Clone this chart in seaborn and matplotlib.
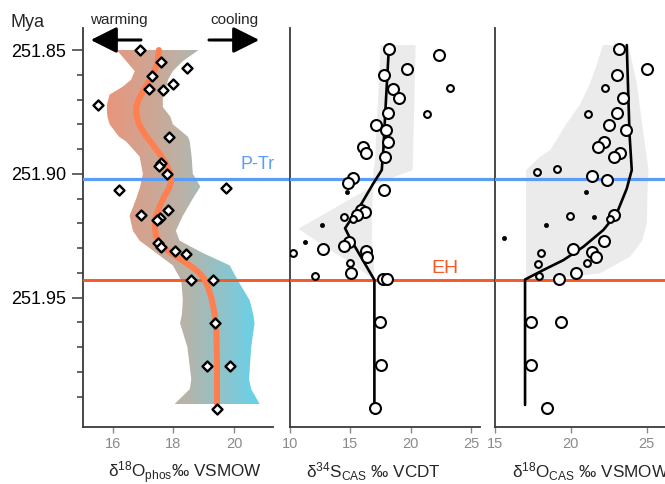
import numpy as np
import pandas as pd
import matplotlib
matplotlib.use("Agg")
import matplotlib.pyplot as plt
import seaborn as sns
from matplotlib.colors import LinearSegmentedColormap

# ---------------------------------------------------------------- data
# conodont apatite oxygen isotopes (diamonds)
phos_age = [251.8500, 251.8548, 251.8571, 251.8606, 251.8637, 251.8658, 251.8662,
            251.8722, 251.8850, 251.8955, 251.8970, 251.9000, 251.9067, 251.9056,
            251.9146, 251.9168, 251.9180, 251.9187, 251.9279, 251.9295, 251.9310,
            251.9324, 251.9431, 251.9431, 251.9604, 251.9775, 251.9775, 251.9950]
phos_d18o = [16.88, 17.58, 18.46, 17.28, 17.97, 17.18, 17.64,
             15.49, 17.84, 17.58, 17.52, 17.78, 16.19, 19.74,
             17.83, 16.93, 17.54, 17.47, 17.49, 17.59, 18.06,
             18.41, 18.58, 19.31, 19.37, 19.12, 19.87, 19.43]

# smoothed phosphate trend
phos_fit_age = [251.8500, 251.8548, 251.8575, 251.8620, 251.8665, 251.8700, 251.8730,
                251.8765, 251.8800, 251.8840, 251.8880, 251.8920, 251.8960, 251.9000,
                251.9030, 251.9060, 251.9090, 251.9130, 251.9170, 251.9210, 251.9250,
                251.9280, 251.9310, 251.9335, 251.9360, 251.9390, 251.9420, 251.9456,
                251.9500, 251.9564, 251.9650, 251.9766, 251.9928]
phos_fit = [17.52, 17.47, 17.40, 17.22, 17.00, 16.85, 16.77,
            16.78, 16.86, 17.05, 17.30, 17.55, 17.76, 17.90,
            17.93, 17.85, 17.70, 17.55, 17.42, 17.38, 17.42,
            17.54, 17.80, 18.10, 18.42, 18.76, 19.00, 19.14,
            19.25, 19.36, 19.42, 19.44, 19.44]

# confidence envelope of the phosphate trend
phos_band_age = [251.8500, 251.8545, 251.8585, 251.8620, 251.8650, 251.8680, 251.8730,
                 251.8770, 251.8800, 251.8850, 251.8870, 251.8930, 251.9000, 251.9052,
                 251.9100, 251.9170, 251.9230, 251.9270, 251.9320, 251.9370, 251.9431,
                 251.9511, 251.9568, 251.9604, 251.9700, 251.9830, 251.9870, 251.9930]
phos_band_lo = [16.13, 16.44, 16.72, 16.60, 16.30, 15.89, 15.78,
                15.82, 15.89, 16.20, 16.44, 16.88, 16.99, 16.90,
                16.77, 16.55, 16.66, 16.88, 17.43, 17.98, 18.26,
                18.31, 18.28, 18.22, 18.46, 18.59, 18.54, 18.04]
phos_band_hi = [18.83, 18.31, 17.98, 17.82, 17.76, 17.65, 17.65,
                17.90, 17.98, 18.48, 18.54, 18.60, 18.64, 18.89,
                18.64, 18.31, 18.08, 18.20, 18.97, 19.86, 20.13,
                20.52, 20.64, 20.68, 20.57, 20.50, 20.57, 20.85]

# carbonate-associated sulfate: sulfur isotopes
s_age = [251.8497, 251.8520, 251.8578, 251.8602, 251.8655, 251.8658, 251.8695,
         251.8756, 251.8760, 251.8803, 251.8824, 251.8870, 251.8890, 251.8915,
         251.8931, 251.9018, 251.9037, 251.9072, 251.9066, 251.9146, 251.9155,
         251.9167, 251.9173, 251.9183, 251.9207, 251.9275, 251.9292, 251.9276,
         251.9322, 251.9305, 251.9312, 251.9338, 251.9359, 251.9400, 251.9412,
         251.9427, 251.9427, 251.9600, 251.9773, 251.9948]
s_d34s = [18.18, 22.37, 19.66, 17.76, 23.26, 18.56, 19.06,
          18.09, 21.33, 17.15, 17.93, 18.09, 16.02, 16.30,
          17.85, 15.25, 14.83, 14.75, 17.79, 15.88, 16.21,
          15.53, 14.50, 15.25, 12.68, 14.92, 14.50, 11.24,
          10.28, 12.76, 16.27, 16.35, 15.00, 15.05, 12.07,
          17.73, 18.01, 17.46, 17.57, 17.07]
s_class = ["L", "L", "L", "L", "S", "L", "L",
           "L", "S", "L", "L", "L", "L", "L",
           "L", "L", "L", "T", "L", "L", "L",
           "L", "S", "S", "T", "L", "L", "T",
           "S", "L", "L", "L", "S", "L", "S",
           "L", "L", "L", "L", "L"]

s_fit_age = [251.8500, 251.8700, 251.8904, 251.8985, 251.9039, 251.9119,
             251.9220, 251.9260, 251.9429, 251.9928]
s_fit = [18.18, 17.95, 17.73, 17.60, 16.90, 15.94,
         14.56, 14.97, 16.99, 16.99]

s_band_x = [17.51, 20.41, 20.16, 16.90, 16.80, 16.77, 16.90, 16.99,
            15.11, 12.90, 10.69, 16.86, 16.92, 17.04, 17.51]
s_band_y = [251.8480, 251.8480, 251.8985, 251.9045, 251.9150, 251.9268, 251.9330, 251.9429,
            251.9362, 251.9295, 251.9222, 251.9050, 251.8985, 251.8944, 251.8480]

# carbonate-associated sulfate: oxygen isotopes
o_age = [251.8497, 251.8578, 251.8602, 251.8655, 251.8695, 251.8756, 251.8760,
         251.8803, 251.8824, 251.8870, 251.8890, 251.8915, 251.8931, 251.8993,
         251.8982, 251.9009, 251.9027, 251.9072, 251.9171, 251.9175, 251.9207,
         251.9167, 251.9184, 251.9258, 251.9270, 251.9304, 251.9315, 251.9338,
         251.9322, 251.9359, 251.9366, 251.9400, 251.9412, 251.9425, 251.9600,
         251.9600, 251.9773, 251.9948]
o_d18o = [23.20, 25.00, 23.02, 22.27, 23.44, 23.06, 21.11,
          22.53, 23.64, 22.19, 21.81, 23.22, 22.86, 17.77,
          19.07, 21.37, 22.36, 21.02, 19.94, 21.53, 18.36,
          22.84, 22.58, 15.61, 22.19, 20.12, 21.37, 21.66,
          18.05, 21.04, 17.86, 20.34, 17.92, 19.24, 17.35,
          19.35, 17.35, 18.43]
o_class = ["L", "L", "L", "S", "L", "L", "S",
           "L", "L", "L", "L", "L", "L", "S",
           "S", "L", "L", "T", "S", "T", "T",
           "L", "S", "T", "L", "L", "L", "L",
           "S", "S", "S", "L", "S", "L", "L",
           "L", "L", "L"]

o_fit_age = [251.8480, 251.8837, 251.8985, 251.9060, 251.9160, 251.9227,
             251.9295, 251.9349, 251.9389, 251.9427, 251.9934]
o_fit = [23.68, 23.86, 24.01, 23.68, 23.02, 22.14,
         20.82, 19.50, 18.18, 16.98, 16.98]

o_band_x = [22.10, 23.79, 24.34, 24.78, 25.11, 25.05, 25.00, 24.70, 23.90, 21.92,
            19.07, 17.05, 17.05, 17.97, 18.63, 19.73, 20.60, 21.26, 21.75, 22.10]
o_band_y = [251.8480, 251.8480, 251.8635, 251.8837, 251.8985, 251.9060, 251.9200, 251.9270,
            251.9335, 251.9402, 251.9422, 251.9429, 251.8985, 251.8931, 251.8904, 251.8796,
            251.8720, 251.8635, 251.8550, 251.8480]

PTR_AGE = 251.9022
EH_AGE = 251.9431

# ---------------------------------------------------------------- style
sns.set_theme(style="ticks")
plt.rcParams["font.family"] = ["Liberation Sans", "DejaVu Sans"]
plt.rcParams["mathtext.fontset"] = "custom"
plt.rcParams["mathtext.rm"] = "Liberation Sans"
plt.rcParams["mathtext.it"] = "Liberation Sans:italic"
plt.rcParams["mathtext.bf"] = "Liberation Sans:bold"

BLUE = "#5B9CF6"
RED = "#F25A28"
CORAL = "#FF7F50"
BAND_GRAY = "#EBEBEB"
SPINE = "#3a3a3a"
TICKGRAY = "#8a8a8a"

W, H = 665, 484
fig = plt.figure(figsize=(W / 100, H / 100), dpi=100)
bottom = 57 / H
height = 399 / H
axL = fig.add_axes([82.7 / W, bottom, 207.3 / W, height])
axM = fig.add_axes([290 / W, bottom, 205 / W, height])
axR = fig.add_axes([495 / W, bottom, 170 / W, height])

YLIM = (252.0023, 251.8411)

# ---------------------------------------------------------------- left panel
band = axL.fill_betweenx(phos_band_age, phos_band_lo, phos_band_hi, color="none", lw=0)
cmap = LinearSegmentedColormap.from_list("warmcool", ["#EA957A", "#B9B3A8", "#62D4EE"])
grad = axL.imshow(np.linspace(0, 1, 256)[None, :], cmap=cmap, aspect="auto",
                  extent=[15.8, 20.9, 252.0, 251.84], zorder=1, interpolation="bilinear")
grad.set_clip_path(band.get_paths()[0], transform=axL.transData)

sns.lineplot(x=phos_fit, y=phos_fit_age, sort=False, estimator=None, color=CORAL,
             lw=4.3, ax=axL, zorder=4)
sns.scatterplot(x=phos_d18o, y=phos_age, marker="D", s=26, color="white",
                edgecolor="black", linewidth=1.7, ax=axL, zorder=6)
axL.set_xlim(15, 21.853)


# ---------------------------------------------------------------- CAS panels
def cas_panel(ax, age, vals, cls, fit_age, fit, bx, by):
    ax.fill(bx, by, color=BAND_GRAY, lw=0, zorder=1)
    sns.lineplot(x=fit, y=fit_age, sort=False, estimator=None, color="black",
                 lw=1.9, ax=ax, zorder=4)
    df = pd.DataFrame({"age": age, "val": vals, "cls": cls})
    for c, size, face in [("L", 62, "white"), ("S", 24, "white"), ("T", 9, "black")]:
        sub = df[df["cls"] == c]
        sns.scatterplot(data=sub, x="val", y="age", s=size, color=face,
                        edgecolor="black", linewidth=1.5 if c != "T" else 0.5,
                        ax=ax, zorder=6)


cas_panel(axM, s_age, s_d34s, s_class, s_fit_age, s_fit, s_band_x, s_band_y)
cas_panel(axR, o_age, o_d18o, o_class, o_fit_age, o_fit, o_band_x, o_band_y)
axM.set_xlim(10, 26.98)
axR.set_xlim(15, 26.2)

# ---------------------------------------------------------------- event horizons
for ax in (axL, axM, axR):
    ax.axhline(PTR_AGE, color=BLUE, lw=2.3, zorder=3)
    ax.axhline(EH_AGE, color=RED, lw=2.1, zorder=3)
    ax.set_ylim(*YLIM)
    ax.set_xlabel("")
    ax.set_ylabel("")
    ax.patch.set_alpha(0)
    for s in ("top", "right"):
        ax.spines[s].set_visible(False)
    for s in ("left", "bottom"):
        ax.spines[s].set_color(SPINE)
        ax.spines[s].set_linewidth(1.3)
    ax.tick_params(axis="x", direction="out", length=4, width=1, color=TICKGRAY,
                   labelcolor=TICKGRAY, labelsize=10.5, pad=3)

axL.text(20.21, 251.8982, "P-Tr", color=BLUE, fontsize=13, ha="left", va="baseline")
axM.text(21.68, 251.9402, "EH", color=RED, fontsize=14, ha="left", va="baseline")

# ---------------------------------------------------------------- axes & ticks
axL.set_xticks([16, 18, 20])
axM.set_xticks([10, 15, 20, 25])
axR.set_xticks([15, 20, 25])
axL.spines["bottom"].set_bounds(15, 21.29)
axM.spines["bottom"].set_bounds(10, 25.74)

axL.set_yticks([251.85, 251.90, 251.95])
axL.set_yticklabels(["251.85", "251.90", "251.95"])
axL.set_yticks([251.86, 251.87, 251.88, 251.89, 251.91, 251.92, 251.93, 251.94,
                251.96, 251.97, 251.98, 251.99], minor=True)
axL.tick_params(axis="y", which="major", direction="out", length=8, width=1.1,
                color=SPINE, labelsize=13, labelcolor="black", pad=4)
axL.tick_params(axis="y", which="minor", direction="out", length=4, width=1.1,
                color=SPINE, left=True)
for ax in (axM, axR):
    ax.set_yticks([])

# x-axis titles
LABEL_SIZE = 12.3
fig.text(108 / W, 6 / H, "δ$^{18}$O$_{\\mathrm{phos}}$‰ VSMOW", fontsize=LABEL_SIZE,
         ha="left", va="baseline")
fig.text(306 / W, 6 / H, "δ$^{34}$S$_{\\mathrm{CAS}}$ ‰ VCDT", fontsize=LABEL_SIZE,
         ha="left", va="baseline")
fig.text(511.7 / W, 6 / H, "δ$^{18}$O$_{\\mathrm{CAS}}$ ‰ VSMOW", fontsize=LABEL_SIZE,
         ha="left", va="baseline")

fig.text(10 / W, (H - 27) / H, "Mya", fontsize=13, ha="left", va="baseline")

# warming / cooling arrows
fig.text(118.5 / W, (H - 24) / H, "warming", fontsize=11, ha="center", va="baseline")
fig.text(234.7 / W, (H - 24) / H, "cooling", fontsize=11, ha="center", va="baseline")
arrow_style = dict(arrowstyle="-|>,head_length=0.8,head_width=0.4", mutation_scale=20,
                   lw=2.2, color="black", shrinkA=0, shrinkB=0)
axL.annotate("", xy=(90.7, H - 40), xytext=(141, H - 40), xycoords="figure pixels",
             textcoords="figure pixels", arrowprops=arrow_style)
axL.annotate("", xy=(259.3, H - 40), xytext=(209, H - 40), xycoords="figure pixels",
             textcoords="figure pixels", arrowprops=arrow_style)

fig.savefig("out.png", dpi=100)
